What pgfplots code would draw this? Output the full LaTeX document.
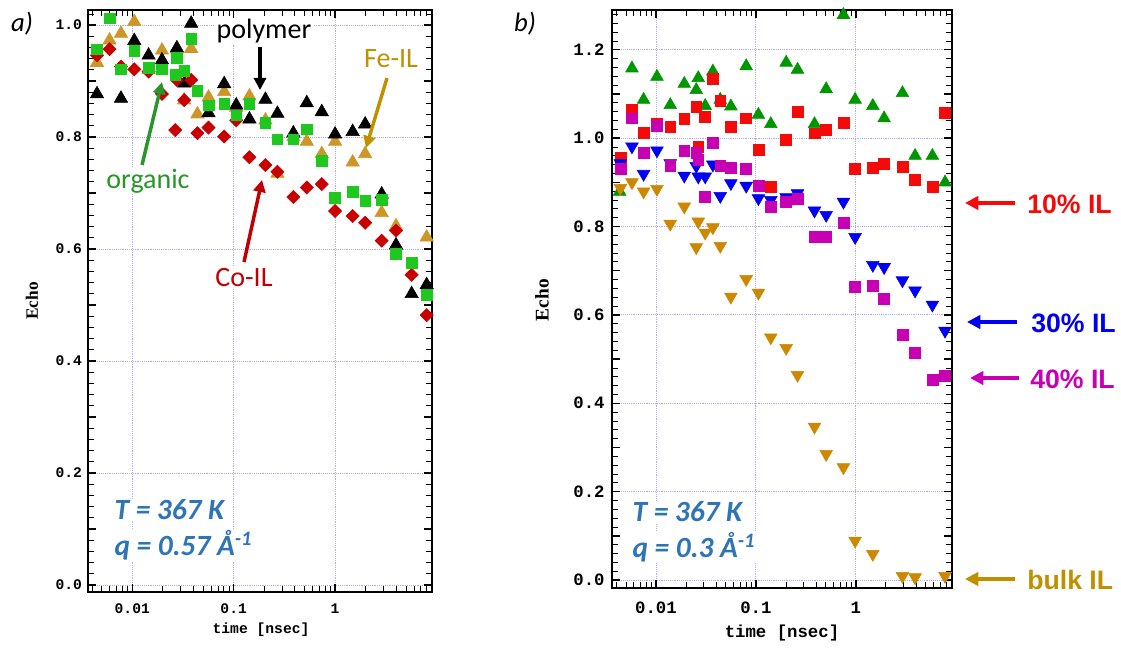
\documentclass[border=0pt]{standalone}
\usepackage{pgfplots}
\pgfplotsset{compat=1.18}
\usepackage{fontspec}
\setmainfont{Carlito}
\newfontfamily\monob{Liberation Mono}
\newfontfamily\serifb{Liberation Serif}
\newfontfamily\sansb{Liberation Sans}
\usetikzlibrary{arrows.meta}

\definecolor{gridblue}{RGB}{170,170,255}
\definecolor{feil}{RGB}{205,150,40}
\definecolor{orgreen}{RGB}{30,200,30}
\definecolor{coil}{RGB}{200,0,0}
\definecolor{txtblue}{RGB}{46,117,182}
\definecolor{annogreen}{RGB}{40,150,40}
\definecolor{annored}{RGB}{192,0,0}
\definecolor{annogold}{RGB}{191,144,0}
\definecolor{bgreen}{RGB}{0,150,0}
\definecolor{bred}{RGB}{245,10,10}
\definecolor{bblue}{RGB}{0,0,245}
\definecolor{bmag}{RGB}{200,0,180}
\definecolor{bgold}{RGB}{205,135,0}

\begin{document}
\begin{tikzpicture}
\path[use as bounding box] (0,0) rectangle (840.75pt,486pt);

% ---- panel a
\begin{axis}[
  xmode=log, scale only axis, anchor=south west, clip=false,
  at={(66pt,42pt)}, width=258pt, height=436.5pt,
  xmin=0.00366, xmax=9.03, ymin=-0.0125, ymax=1.027,
  axis line style={line width=1.2pt},
  tick align=inside,
  major tick length=6pt, minor tick length=4.5pt,
  major tick style={black, line width=1.1pt},
  minor tick style={black, line width=0.6pt},
  xtick={0.01,0.1,1}, xticklabels={0.01,0.1,1},
  minor xtick={0.004,0.005,0.006,0.007,0.008,0.009,0.02,0.03,0.04,0.05,0.06,0.07,0.08,0.09,0.2,0.3,0.4,0.5,0.6,0.7,0.8,0.9,2,3,4,5,6,7,8,9},
  ytick={0,0.2,0.4,0.6,0.8,1.0}, yticklabels={0.0,0.2,0.4,0.6,0.8,1.0},
  minor ytick={0.02,0.04,...,1.02},
  extra y ticks={0.1,0.3,0.5,0.7,0.9},
  extra y tick labels={},
  extra y tick style={grid=none},
  grid=major,
  major grid style={gridblue, densely dotted, line width=0.6pt},
  tick label style={font=\monob\bfseries\fontsize{11}{13}\selectfont},
  xticklabel style={yshift=-5pt},
  yticklabel style={xshift=-1pt},
  xlabel={time [nsec]}, ylabel={Echo},
  xlabel style={font=\monob\bfseries\fontsize{11}{13}\selectfont, at={(axis description cs:0.503,-0.065)}, anchor=center},
  ylabel style={font=\serifb\bfseries\fontsize{13}{15}\selectfont, at={(axis description cs:-0.163,0.5)}, anchor=center},
]
\addplot[only marks, mark=triangle*, mark size=5.8pt, color=feil] table {
0.00449 0.933
0.00597 0.973
0.00774 0.985
0.01047 1.006
0.01449 0.920
0.01963 0.955
0.02754 0.957
0.0325 0.866
0.0381 0.958
0.0439 0.841
0.0565 0.871
0.0806 0.881
0.106 0.853
0.143 0.873
0.2056 0.830
0.270 0.735
0.388 0.800
0.526 0.792
0.739 0.770
1.0 0.792
1.49 0.755
1.98 0.770
2.88 0.665
3.99 0.641
8.0 0.621
};
\addplot[only marks, mark=triangle*, mark size=5.8pt, color=black] table {
0.00449 0.877
0.00774 0.869
0.01047 0.972
0.01449 0.946
0.01963 0.9375
0.02754 0.959
0.0325 0.896
0.0381 1.003
0.0565 0.843
0.0806 0.895
0.106 0.857
0.143 0.832
0.2056 0.867
0.270 0.842
0.388 0.807
0.526 0.861
0.739 0.845
1.0 0.805
1.49 0.8095
1.98 0.823
2.88 0.698
3.99 0.607
5.69 0.520
8.0 0.536
};
\addplot[only marks, mark=square*, mark size=3.5pt, mark options={rotate=45}, color=coil] table {
0.00449 0.946
0.00597 0.957
0.00774 0.926
0.01047 0.921
0.01449 0.917
0.01963 0.877
0.02654 0.8125
0.02754 0.902
0.0325 0.866
0.0381 0.902
0.0439 0.807
0.0565 0.817
0.0806 0.801
0.106 0.830
0.143 0.764
0.2056 0.750
0.270 0.738
0.388 0.693
0.526 0.710
0.739 0.716
1.0 0.668
1.49 0.659
1.98 0.647
2.88 0.615
3.99 0.633
5.69 0.554
8.0 0.482
};
\addplot[only marks, mark=square*, mark size=4pt, color=orgreen] table {
0.00449 0.957
0.00597 1.012
0.00774 0.921
0.01047 0.954
0.01449 0.924
0.01963 0.921
0.02654 0.911
0.02754 0.942
0.0325 0.918
0.0381 0.976
0.0439 0.883
0.0565 0.857
0.0806 0.859
0.106 0.839
0.143 0.859
0.2056 0.826
0.270 0.796
0.388 0.796
0.526 0.814
0.739 0.758
1.0 0.692
1.49 0.702
1.98 0.686
2.88 0.6875
3.99 0.591
5.69 0.576
8.0 0.518
};
\end{axis}

% ---- panel b
\begin{axis}[
  xmode=log, scale only axis, anchor=south west, clip=false,
  at={(459pt,45pt)}, width=255pt, height=433.5pt,
  xmin=0.00363, xmax=9.18, ymin=-0.018, ymax=1.29,
  axis line style={line width=1.2pt},
  tick align=inside,
  major tick length=6pt, minor tick length=4.5pt,
  major tick style={black, line width=1.1pt},
  minor tick style={black, line width=0.6pt},
  xtick={0.01,0.1,1}, xticklabels={0.01,0.1,1},
  minor xtick={0.004,0.005,0.006,0.007,0.008,0.009,0.02,0.03,0.04,0.05,0.06,0.07,0.08,0.09,0.2,0.3,0.4,0.5,0.6,0.7,0.8,0.9,2,3,4,5,6,7,8,9},
  ytick={0,0.2,0.4,0.6,0.8,1.0,1.2}, yticklabels={0.0,0.2,0.4,0.6,0.8,1.0,1.2},
  minor ytick={0.02,0.04,...,1.28},
  extra y ticks={0.1,0.3,0.5,0.7,0.9,1.1},
  extra y tick labels={},
  extra y tick style={grid=none},
  grid=major,
  major grid style={gridblue, densely dotted, line width=0.6pt},
  tick label style={font=\monob\bfseries\fontsize{13}{15}\selectfont},
  xticklabel style={yshift=-7pt},
  yticklabel style={xshift=-2pt},
  xlabel={time [nsec]}, ylabel={Echo},
  xlabel style={font=\monob\bfseries\fontsize{13}{15}\selectfont, at={(axis description cs:0.5,-0.078)}, anchor=center},
  ylabel style={font=\serifb\bfseries\fontsize{14.5}{17}\selectfont, at={(axis description cs:-0.206,0.498)}, anchor=center},
]
\addplot[only marks, mark=triangle*, mark size=5.5pt, color=bgreen] table {
0.00433 0.879
0.00575 1.158
0.00752 1.087
0.01023 1.139
0.0139 1.075
0.0192 1.123
0.0253 1.109
0.0265 1.136
0.0311 1.073
0.0371 1.151
0.0440 1.087
0.0562 1.072
0.080 1.163
0.106 1.053
0.141 1.032
0.201 1.171
0.261 1.155
0.386 1.032
0.505 1.111
0.752 1.279
0.984 1.087
1.48 1.073
1.92 1.045
2.93 1.102
3.92 0.960
5.84 0.960
7.82 0.900
};
\addplot[only marks, mark=square*, mark size=4.1pt, color=bred] table {
0.00440 0.955
0.00575 1.064
0.00752 1.013
0.01023 1.032
0.0139 1.025
0.0192 1.043
0.0253 1.070
0.0265 0.981
0.0311 1.048
0.0371 1.134
0.0440 1.085
0.0562 1.026
0.080 1.045
0.106 0.974
0.141 0.889
0.201 0.996
0.261 1.060
0.386 1.011
0.505 1.019
0.752 1.035
0.984 0.930
1.48 0.932
1.92 0.943
2.93 0.936
3.92 0.906
5.84 0.890
7.82 1.057
};
\addplot[only marks, mark=triangle*, mark size=5.5pt, mark options={rotate=180}, color=bblue] table {
0.00440 0.943
0.00575 0.981
0.00752 0.919
0.01023 0.972
0.0139 0.943
0.0192 0.915
0.0253 0.937
0.0265 0.913
0.0311 0.913
0.0371 0.940
0.0440 0.869
0.0562 0.898
0.080 0.892
0.106 0.864
0.141 0.860
0.201 0.866
0.261 0.875
0.386 0.836
0.505 0.826
0.752 0.856
0.984 0.776
1.48 0.713
1.92 0.708
2.93 0.678
3.92 0.655
5.84 0.623
7.82 0.564
};
\addplot[only marks, mark=square*, mark size=4.1pt, color=bmag] table {
0.00440 0.930
0.00575 1.045
0.00752 0.966
0.01023 1.028
0.0139 0.937
0.0192 0.972
0.0253 0.967
0.0265 0.952
0.0311 0.868
0.0371 0.990
0.0440 0.937
0.0562 0.934
0.080 0.930
0.106 0.892
0.141 0.845
0.201 0.856
0.261 0.862
0.386 0.776
0.505 0.776
0.752 0.808
0.984 0.664
1.48 0.666
1.92 0.636
2.93 0.555
3.92 0.515
5.84 0.453
7.82 0.462
};
\addplot[only marks, mark=triangle*, mark size=5.5pt, mark options={rotate=180}, color=bgold] table {
0.00440 0.887
0.00575 0.900
0.00752 0.879
0.01023 0.885
0.0139 0.806
0.0192 0.845
0.0253 0.753
0.0265 0.811
0.0311 0.786
0.0371 0.798
0.0440 0.756
0.0562 0.641
0.080 0.681
0.106 0.650
0.141 0.549
0.201 0.525
0.261 0.464
0.386 0.347
0.505 0.285
0.752 0.255
0.984 0.089
1.48 0.059
2.93 0.009
3.92 0.006
7.82 0.009
};
\end{axis}

% ---- annotations, in image pixel units
\begin{scope}[x=0.75pt, y=-0.75pt, shift={(0pt,486pt)}]
\node[font=\itshape\fontsize{20}{24}\selectfont] at (22,24) {a)};
\node[font=\itshape\fontsize{20}{24}\selectfont] at (525,24) {b)};

\node[fill=white, inner sep=1pt, font=\fontsize{21}{25}\selectfont] at (264,31) {polymer};
\draw[-{Triangle[length=9pt,width=9pt]}, line width=2.6pt] (260,47) -- (260,90);

\node[fill=white, inner sep=1pt, text=annogold, font=\fontsize{21}{25}\selectfont] at (391,59) {Fe-IL};
\draw[annogold, -{Triangle[length=9pt,width=9pt]}, line width=2.6pt] (387,78) -- (366,148);

\node[fill=white, inner sep=1pt, text=annogreen, font=\fontsize{21}{25}\selectfont] at (148,181) {organic};
\draw[annogreen, -{Triangle[length=9pt,width=9pt]}, line width=2.6pt] (142,165) -- (162,82);

\node[fill=white, inner sep=1pt, text=annored, font=\fontsize{21}{25}\selectfont] at (244,278) {Co-IL};
\draw[annored, -{Triangle[length=9pt,width=9pt]}, line width=2.6pt] (244,262) -- (262,180);

\node[anchor=west, fill=white, inner sep=1pt, text=txtblue, font=\bfseries\itshape\fontsize{22}{26}\selectfont] at (113,510) {T = 367 K};
\node[anchor=west, fill=white, inner sep=1pt, text=txtblue, font=\bfseries\itshape\fontsize{22}{26}\selectfont] at (113,545) {q = 0.57 Å\textsuperscript{-1}};

\node[anchor=west, fill=white, inner sep=1pt, text=txtblue, font=\bfseries\itshape\fontsize{22}{26}\selectfont] at (631,512) {T = 367 K};
\node[anchor=west, fill=white, inner sep=1pt, text=txtblue, font=\bfseries\itshape\fontsize{22}{26}\selectfont] at (631,547) {q = 0.3 Å\textsuperscript{-1}};

\draw[bred, -{Triangle[length=10pt,width=10pt]}, line width=3pt] (1015,203) -- (965,203);
\node[anchor=west, inner sep=0pt, text=bred, font=\sansb\bfseries\fontsize{20}{24}\selectfont] at (1027,204) {10\% IL};
\draw[bblue, -{Triangle[length=10pt,width=10pt]}, line width=3pt] (1017,322) -- (967,322);
\node[anchor=west, inner sep=0pt, text=bblue, font=\sansb\bfseries\fontsize{20}{24}\selectfont] at (1031,323) {30\% IL};
\draw[bmag, -{Triangle[length=10pt,width=10pt]}, line width=3pt] (1019,378) -- (970,378);
\node[anchor=west, inner sep=0pt, text=bmag, font=\sansb\bfseries\fontsize{20}{24}\selectfont] at (1030,379) {40\% IL};
\draw[annogold, -{Triangle[length=10pt,width=10pt]}, line width=3pt] (1015,579) -- (965,579);
\node[anchor=west, inner sep=0pt, text=annogold, font=\sansb\bfseries\fontsize{20}{24}\selectfont] at (1027,580) {bulk IL};
\end{scope}
\end{tikzpicture}
\end{document}
